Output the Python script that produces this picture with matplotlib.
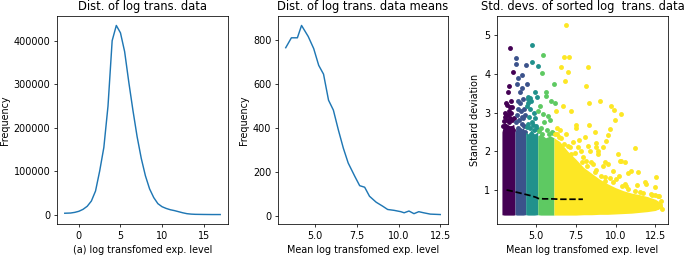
import matplotlib
matplotlib.use("Agg")
import matplotlib.pyplot as plt
import numpy as np

# panel (a): distribution of all log transformed values
log_x = [-1.7, -1.0, -0.5, 0.0, 0.5, 1.0, 1.5, 2.0, 2.5, 3.0, 3.5, 4.0, 4.5, 5.0,
         5.5, 6.0, 6.5, 7.0, 7.5, 8.0, 8.5, 9.0, 9.5, 10.0, 10.5, 11.0, 11.5,
         12.0, 12.5, 13.0, 13.5, 14.0, 15.0, 16.0, 17.0]
log_freq = [4000, 4500, 6000, 8500, 13000, 20000, 32000, 55000, 101000, 155000,
            250000, 400000, 435000, 418000, 375000, 305000, 240000, 180000,
            130000, 90000, 60000, 40000, 26000, 19000, 15000, 12000, 10000,
            7500, 5000, 3000, 2000, 1500, 1200, 1000, 1000]

# panel (b): distribution of the means
mean_x = [3.22, 3.56, 3.92, 4.17, 4.57, 4.9, 5.2, 5.49, 5.79, 6.08, 6.38, 6.68,
          6.97, 7.37, 7.66, 7.96, 8.25, 8.65, 9.04, 9.34, 9.73, 10.13, 10.33,
          10.62, 10.92, 11.21, 11.5, 11.9, 12.5]
mean_freq = [764, 809, 809, 865, 815, 760, 684, 644, 526, 481, 391, 308, 241,
             180, 138, 131, 90, 63, 45, 30, 26, 20, 15, 23, 11, 20, 15, 9, 7]

# panel (c): dense cores of the five sorted groups (x, lower, upper edge)
core_x = [
    [2.86, 3.0, 3.2, 3.4, 3.6, 3.68],
    [3.68, 3.8, 4.0, 4.2, 4.35],
    [4.35, 4.5, 4.7, 4.9, 5.11],
    [5.11, 5.3, 5.6, 5.9, 6.13],
    [6.13, 6.5, 7.0, 7.5, 8.0, 8.5, 9.0, 9.5, 10.0, 10.5, 11.0, 11.5, 12.0, 12.5, 12.94],
]
core_lo = [
    [0.36, 0.35, 0.35, 0.35, 0.35, 0.36],
    [0.36, 0.35, 0.35, 0.35, 0.36],
    [0.36, 0.35, 0.35, 0.35, 0.36],
    [0.36, 0.35, 0.35, 0.35, 0.35],
    [0.35, 0.35, 0.35, 0.35, 0.36, 0.36, 0.37, 0.37, 0.38, 0.39, 0.40, 0.42, 0.44, 0.47, 0.55],
]
core_hi = [
    [2.5, 2.75, 2.7, 2.65, 2.7, 2.5],
    [2.5, 2.65, 2.55, 2.6, 2.5],
    [2.5, 2.45, 2.55, 2.45, 2.5],
    [2.4, 2.45, 2.35, 2.4, 2.35],
    [2.35, 2.25, 2.0, 1.8, 1.58, 1.43, 1.28, 1.16, 1.06, 0.98, 0.92, 0.88, 0.83, 0.76, 0.65],
]

# scattered genes outside the dense cores, one list per group
sd_x = [
    [3.36, 3.57, 3.30, 3.22, 3.1, 3.2, 3.35, 3.05, 3.25, 3.45, 3.15, 3.3, 3.5,
     3.05, 3.4, 3.55, 3.2, 3.0, 3.45, 3.12, 3.38, 2.95, 3.62, 3.28, 3.52, 3.08],
    [3.76, 3.76, 4.39, 3.89, 4.14, 3.79, 4.10, 4.42, 3.99, 3.85, 4.0, 4.2, 3.9,
     4.05, 4.25, 3.8, 4.15, 4.3, 3.95, 4.1, 3.85, 4.25, 4.0, 4.3, 3.75, 4.18],
    [4.73, 4.77, 5.11, 4.94, 4.52, 5.04, 4.48, 4.62, 4.52, 4.69, 4.46, 4.6,
     4.85, 4.55, 4.75, 4.95, 4.5, 4.65, 4.9, 5.0, 4.42, 4.82, 5.05],
    [5.46, 5.36, 6.11, 5.63, 5.63, 5.94, 6.19, 5.25, 5.15, 5.46, 5.77, 5.5,
     5.9, 5.3, 5.7, 6.0, 5.4, 5.85, 5.2, 6.05],
    [6.87, 6.78, 7.08, 6.55, 7.03, 8.29, 6.84, 8.13, 6.72, 6.26, 7.20, 8.33,
     9.05, 9.74, 9.89, 10.33, 9.95, 9.64, 9.53, 8.33, 8.06, 8.79, 8.79, 9.21,
     11.21, 8.38, 8.90, 10.26, 10.58, 9.32, 9.21, 8.58, 8.16, 9.84, 10.22,
     10.79, 11.42, 12.57, 9.64, 9.32, 10.43, 10.64, 11.35, 11.94, 12.25, 12.47,
     12.74, 11.27, 11.94, 12.82, 12.6, 6.49, 6.91, 7.53, 7.53, 8.69, 9.42,
     8.27, 7.64, 8.90, 10.16, 10.37, 10.99, 11.84, 12.47, 12.67, 9.53, 9.11,
     10.05, 10.58, 11.52, 7.01, 7.22, 7.96, 8.48, 8.69, 6.3, 6.6, 7.3, 7.8,
     6.35, 7.7, 6.2, 6.45, 6.75, 7.15, 7.45, 7.9, 8.2, 8.75, 9.35, 9.85,
     10.8, 11.2, 11.7, 12.3, 12.85, 12.9],
]
sd_y = [
    [4.66, 4.05, 3.68, 3.53, 3.25, 3.2, 3.15, 3.0, 2.95, 3.0, 2.8, 2.75, 2.8,
     2.65, 2.6, 2.55, 2.55, 2.78, 3.3, 2.95, 2.85, 2.65, 2.85, 3.05, 3.15, 2.9],
    [4.42, 4.26, 4.24, 3.90, 3.98, 3.75, 3.65, 3.75, 3.53, 3.3, 3.25, 3.35, 3.1,
     3.05, 3.1, 2.95, 2.9, 2.95, 2.8, 2.7, 2.6, 2.65, 2.55, 2.5, 2.75, 2.85],
    [4.76, 4.31, 4.20, 3.53, 3.40, 3.40, 3.36, 3.37, 3.25, 3.29, 3.18, 3.1,
     3.0, 2.9, 2.75, 2.85, 2.7, 2.6, 2.55, 2.65, 2.62, 2.68, 2.58],
    [4.50, 4.02, 3.75, 3.53, 3.44, 3.29, 3.25, 3.18, 3.05, 2.97, 2.92, 2.75,
     2.8, 2.6, 2.55, 2.5, 2.45, 2.45, 2.52, 2.48],
    [5.27, 4.44, 4.44, 4.18, 4.06, 4.18, 3.82, 3.68, 3.17, 3.04, 3.04, 3.25,
     3.29, 3.16, 3.08, 2.97, 2.82, 2.58, 2.43, 2.67, 2.38, 2.21, 2.12, 2.12,
     2.09, 2.02, 1.93, 1.76, 1.72, 1.72, 1.63, 1.67, 1.76, 1.48, 1.37, 1.43,
     1.46, 1.34, 1.30, 1.22, 1.11, 1.09, 1.14, 1.16, 0.90, 0.88, 0.85, 0.77,
     0.77, 0.59, 0.55, 2.54, 2.45, 2.69, 2.60, 2.49, 2.26, 2.15, 2.10, 2.02,
     1.93, 1.76, 1.50, 1.20, 1.07, 0.85, 1.67, 1.37, 1.28, 1.16, 0.94, 2.15,
     1.93, 1.85, 1.72, 1.46, 2.45, 2.35, 2.25, 2.0, 2.6, 2.3, 2.45, 2.38,
     2.2, 2.1, 1.95, 1.72, 1.62, 1.52, 1.33, 1.2, 1.02, 0.98, 0.93, 0.88,
     0.72, 0.5],
]

# running mean of the standard deviations
trend_x = [3.15, 3.5, 3.9, 4.3, 4.7, 5.0, 5.15, 5.5, 6.0, 6.5, 7.0, 7.5, 7.95]
trend_y = [1.0, 0.97, 0.93, 0.89, 0.85, 0.81, 0.78, 0.77, 0.77, 0.76, 0.76, 0.76, 0.76]

dpi = 69
fig = plt.figure(figsize=(685 / dpi, 256 / dpi), dpi=dpi)
ax1 = fig.add_axes([57 / 685, 0.125, 171 / 685, 0.8125])
ax2 = fig.add_axes([278 / 685, 0.125, 170 / 685, 0.8125])
ax3 = fig.add_axes([497 / 685, 0.125, 171 / 685, 0.8125])

ax1.plot(log_x, log_freq)
ax1.set_title("Dist. of log trans. data")
ax1.set_xlabel("(a) log transfomed exp. level")
ax1.set_ylabel("Frequency")

ax2.plot(mean_x, mean_freq)
ax2.set_title("Dist. of log trans. data means")
ax2.set_xlabel("Mean log transfomed exp. level")
ax2.set_ylabel("Frequency")

cols = plt.cm.viridis(np.linspace(0, 1, 5))
for g in range(5):
    ax3.fill_between(core_x[g], core_lo[g], core_hi[g], color=cols[g], lw=0)
    ax3.scatter(sd_x[g], sd_y[g], s=26, color=cols[g], lw=0)
ax3.plot(trend_x, trend_y, "k--", lw=1.8)
ax3.set_xlim(2.55, 13.3)
ax3.set_ylim(0.12, 5.5)
ax3.set_title("Std. devs. of sorted log  trans. data")
ax3.set_xlabel("Mean log transfomed exp. level")
ax3.set_ylabel("Standard deviation")

fig.savefig("out.png", dpi=dpi)
